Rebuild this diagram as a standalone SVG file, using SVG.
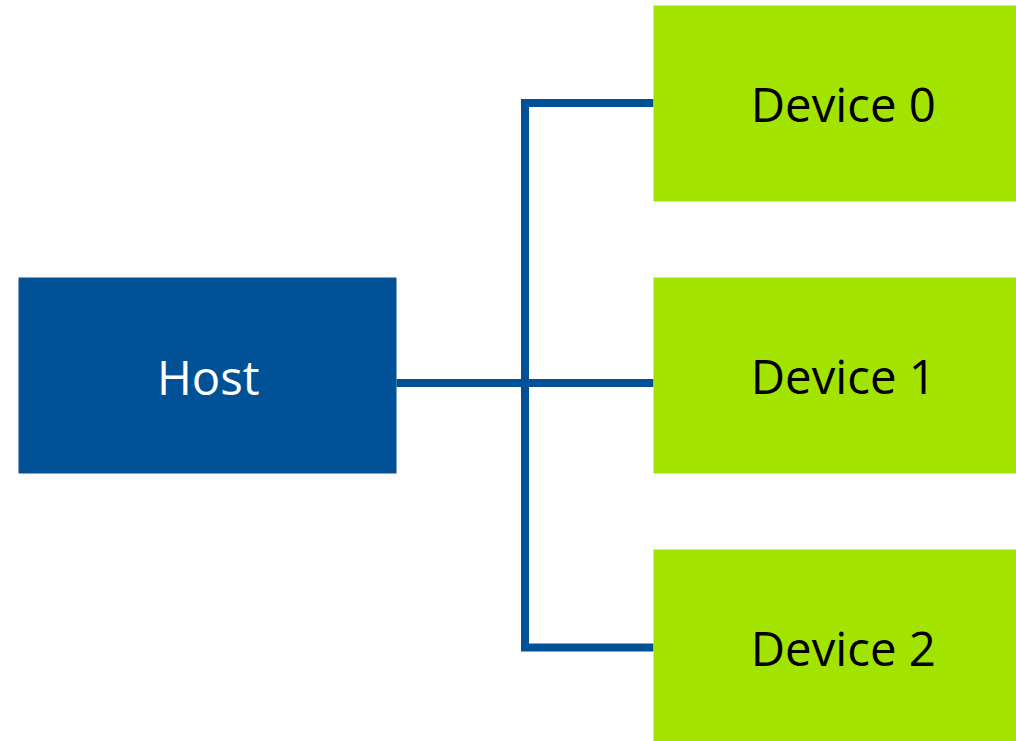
<svg xmlns="http://www.w3.org/2000/svg" width="1016" height="741" viewBox="0 0 1016 741">
  <style>
    .host { fill: #005195; }
    .device { fill: #a2e400; }
    .label { font-family: "Open Sans", "Noto Sans", sans-serif; font-size: 47.3px; text-anchor: middle; }
    .host-label { fill: #ffffff; }
    .device-label { fill: #000000; }
    .wire { fill: none; stroke: #005195; stroke-width: 8; stroke-linejoin: miter; }
  </style>
  <rect width="1016" height="741" fill="#ffffff"/>

  <!-- bus connecting the host to every device -->
  <g id="connectors">
    <path class="wire" d="M396.5,383 H653.5"/>
    <path class="wire" d="M653.5,103 H525 V647.5 H653.5"/>
  </g>

  <g id="host">
    <rect class="host" x="18.5" y="277.5" width="378" height="196"/>
    <text class="label host-label" x="208.3" y="395">Host</text>
  </g>

  <g id="device0">
    <rect class="device" x="653.5" y="5.5" width="378" height="196"/>
    <text class="label device-label" x="843.3" y="122">Device 0</text>
  </g>

  <g id="device1">
    <rect class="device" x="653.5" y="277.5" width="378" height="196"/>
    <text class="label device-label" x="843.3" y="394">Device 1</text>
  </g>

  <g id="device2">
    <rect class="device" x="653.5" y="549.5" width="378" height="196"/>
    <text class="label device-label" x="843.3" y="666">Device 2</text>
  </g>
</svg>
